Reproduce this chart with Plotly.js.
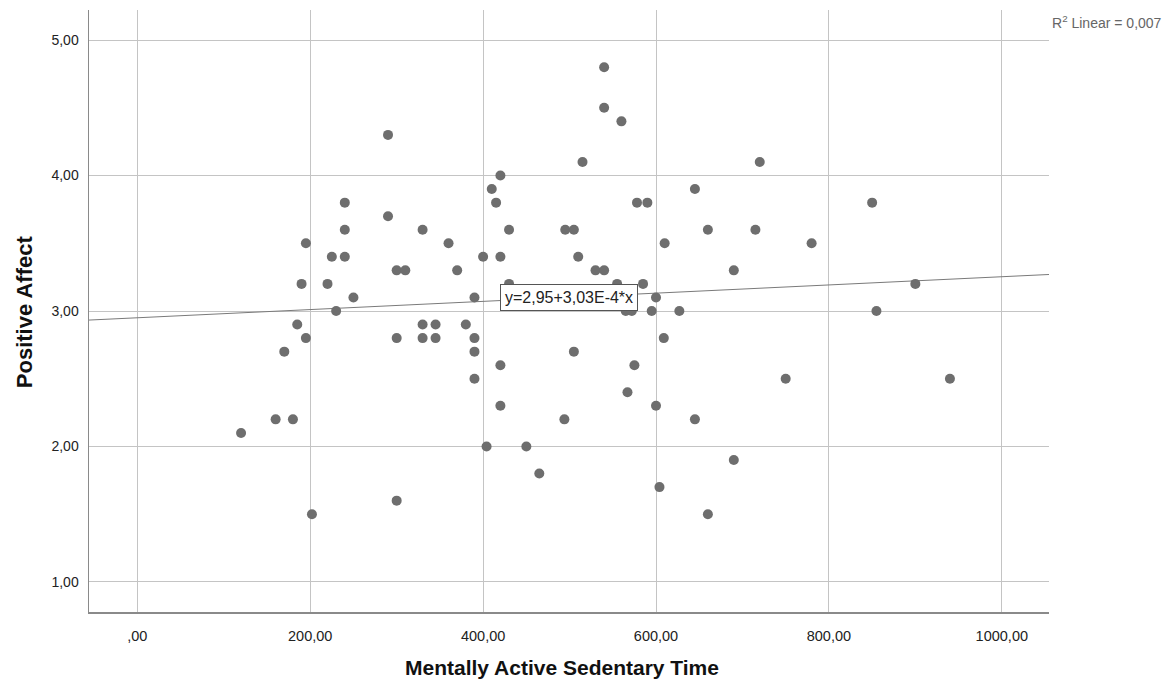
<!DOCTYPE html>
<html>
<head>
<meta charset="utf-8">
<script src="https://cdn.plot.ly/plotly-3.0.1.min.js"></script>
<style>html,body{margin:0;padding:0;background:#fff;}#chart{width:1169px;height:682px;}</style>
</head>
<body>
<div id="chart"></div>
<script>
// Mentally Active Sedentary Time (x) vs Positive Affect (y)
const sedentaryTime = [120,160,180,170,185,195,190,195,202,220,225,230,240,240,240,250,290,290,300,310,300,300,330,330,330,345,345,360,370,380,390,390,390,390,400,404,410,415,420,420,420,420,430,430,450,465,494,495,505,505,510,515,530,540,540,540,555,560,565,572,567,575,578,585,590,595,600,600,604,609,610,627,645,645,660,660,690,690,715,720,750,780,850,855,900,940];
const positiveAffect = [2.1,2.2,2.2,2.7,2.9,2.8,3.2,3.5,1.5,3.2,3.4,3.0,3.4,3.6,3.8,3.1,4.3,3.7,3.3,3.3,2.8,1.6,3.6,2.9,2.8,2.9,2.8,3.5,3.3,2.9,3.1,2.8,2.7,2.5,3.4,2.0,3.9,3.8,4.0,3.4,2.6,2.3,3.6,3.2,2.0,1.8,2.2,3.6,3.6,2.7,3.4,4.1,3.3,3.3,4.8,4.5,3.2,4.4,3.0,3.0,2.4,2.6,3.8,3.2,3.8,3.0,3.1,2.3,1.7,2.8,3.5,3.0,3.9,2.2,3.6,1.5,3.3,1.9,3.6,4.1,2.5,3.5,3.8,3.0,3.2,2.5];

// Fit line as printed on chart: y = 2,95 + 3,03E-4 * x
const fitIntercept = 2.95;
const fitSlope = 3.03e-4;
const fitLabel = 'y=2,95+3,03E-4*x';
const r2Label = 'R<sup>2</sup> Linear = 0,007';

const xTickVals = [0,200,400,600,800,1000];
const xTickText = [',00','200,00','400,00','600,00','800,00','1000,00'];
const yTickVals = [1,2,3,4,5];
const yTickText = ['1,00','2,00','3,00','4,00','5,00'];

const xRange = [-55.9, 1054.6];
const yRange = [0.778, 5.222];

const fitX = [xRange[0], xRange[1]];
const fitY = fitX.map(v => fitIntercept + fitSlope * v);

const font = 'Liberation Sans, Arial, sans-serif';

const traces = [
  {
    type: 'scatter', mode: 'lines', x: fitX, y: fitY,
    line: {color: '#7a7a7a', width: 1}, hoverinfo: 'skip', showlegend: false
  },
  {
    type: 'scatter', mode: 'markers', x: sedentaryTime, y: positiveAffect,
    marker: {color: '#6e6e6e', size: 10, line: {width: 0}}, showlegend: false
  }
];

const layout = {
  width: 1169, height: 682,
  margin: {l: 89, r: 120, t: 10, b: 70},
  paper_bgcolor: '#ffffff', plot_bgcolor: '#ffffff',
  font: {family: font, size: 14, color: '#222222'},
  showlegend: false,
  xaxis: {
    range: xRange, tickvals: xTickVals, ticktext: xTickText,
    showgrid: true, gridcolor: '#c4c4c4', gridwidth: 1,
    zeroline: false, showline: true, linecolor: '#8a8a8a', linewidth: 1.5,
    ticks: '', ticklabelstandoff: 10,
    tickfont: {family: font, size: 14.5, color: '#222222'}
  },
  yaxis: {
    range: yRange, tickvals: yTickVals, ticktext: yTickText,
    showgrid: true, gridcolor: '#c4c4c4', gridwidth: 1,
    zeroline: false, showline: true, linecolor: '#8a8a8a', linewidth: 1.5,
    ticks: '', ticklabelstandoff: 6,
    tickfont: {family: font, size: 14, color: '#222222'}
  },
  annotations: [
    {
      x: 499, y: 3.1, xref: 'x', yref: 'y', text: fitLabel, showarrow: false,
      font: {family: font, size: 16, color: '#222222'},
      bgcolor: '#ffffff', bordercolor: '#555555', borderwidth: 1, borderpad: 4
    },
    {
      x: 1.001, y: 0.980, xref: 'paper', yref: 'paper', xanchor: 'left', yanchor: 'middle',
      text: r2Label, showarrow: false,
      font: {family: font, size: 14, color: '#666666'}
    },
    {
      x: 0.4927, y: -0.093, xref: 'paper', yref: 'paper', xanchor: 'center', yanchor: 'middle',
      text: '<b>Mentally Active Sedentary Time</b>', showarrow: false,
      font: {family: font, size: 21, color: '#111111'}
    },
    {
      x: -0.0677, y: 0.498, xref: 'paper', yref: 'paper', xanchor: 'center', yanchor: 'middle',
      text: '<b>Positive Affect</b>', showarrow: false, textangle: -90,
      font: {family: font, size: 22, color: '#111111'}
    }
  ]
};

Plotly.newPlot('chart', traces, layout, {staticPlot: true, displayModeBar: false});
</script>
</body>
</html>
